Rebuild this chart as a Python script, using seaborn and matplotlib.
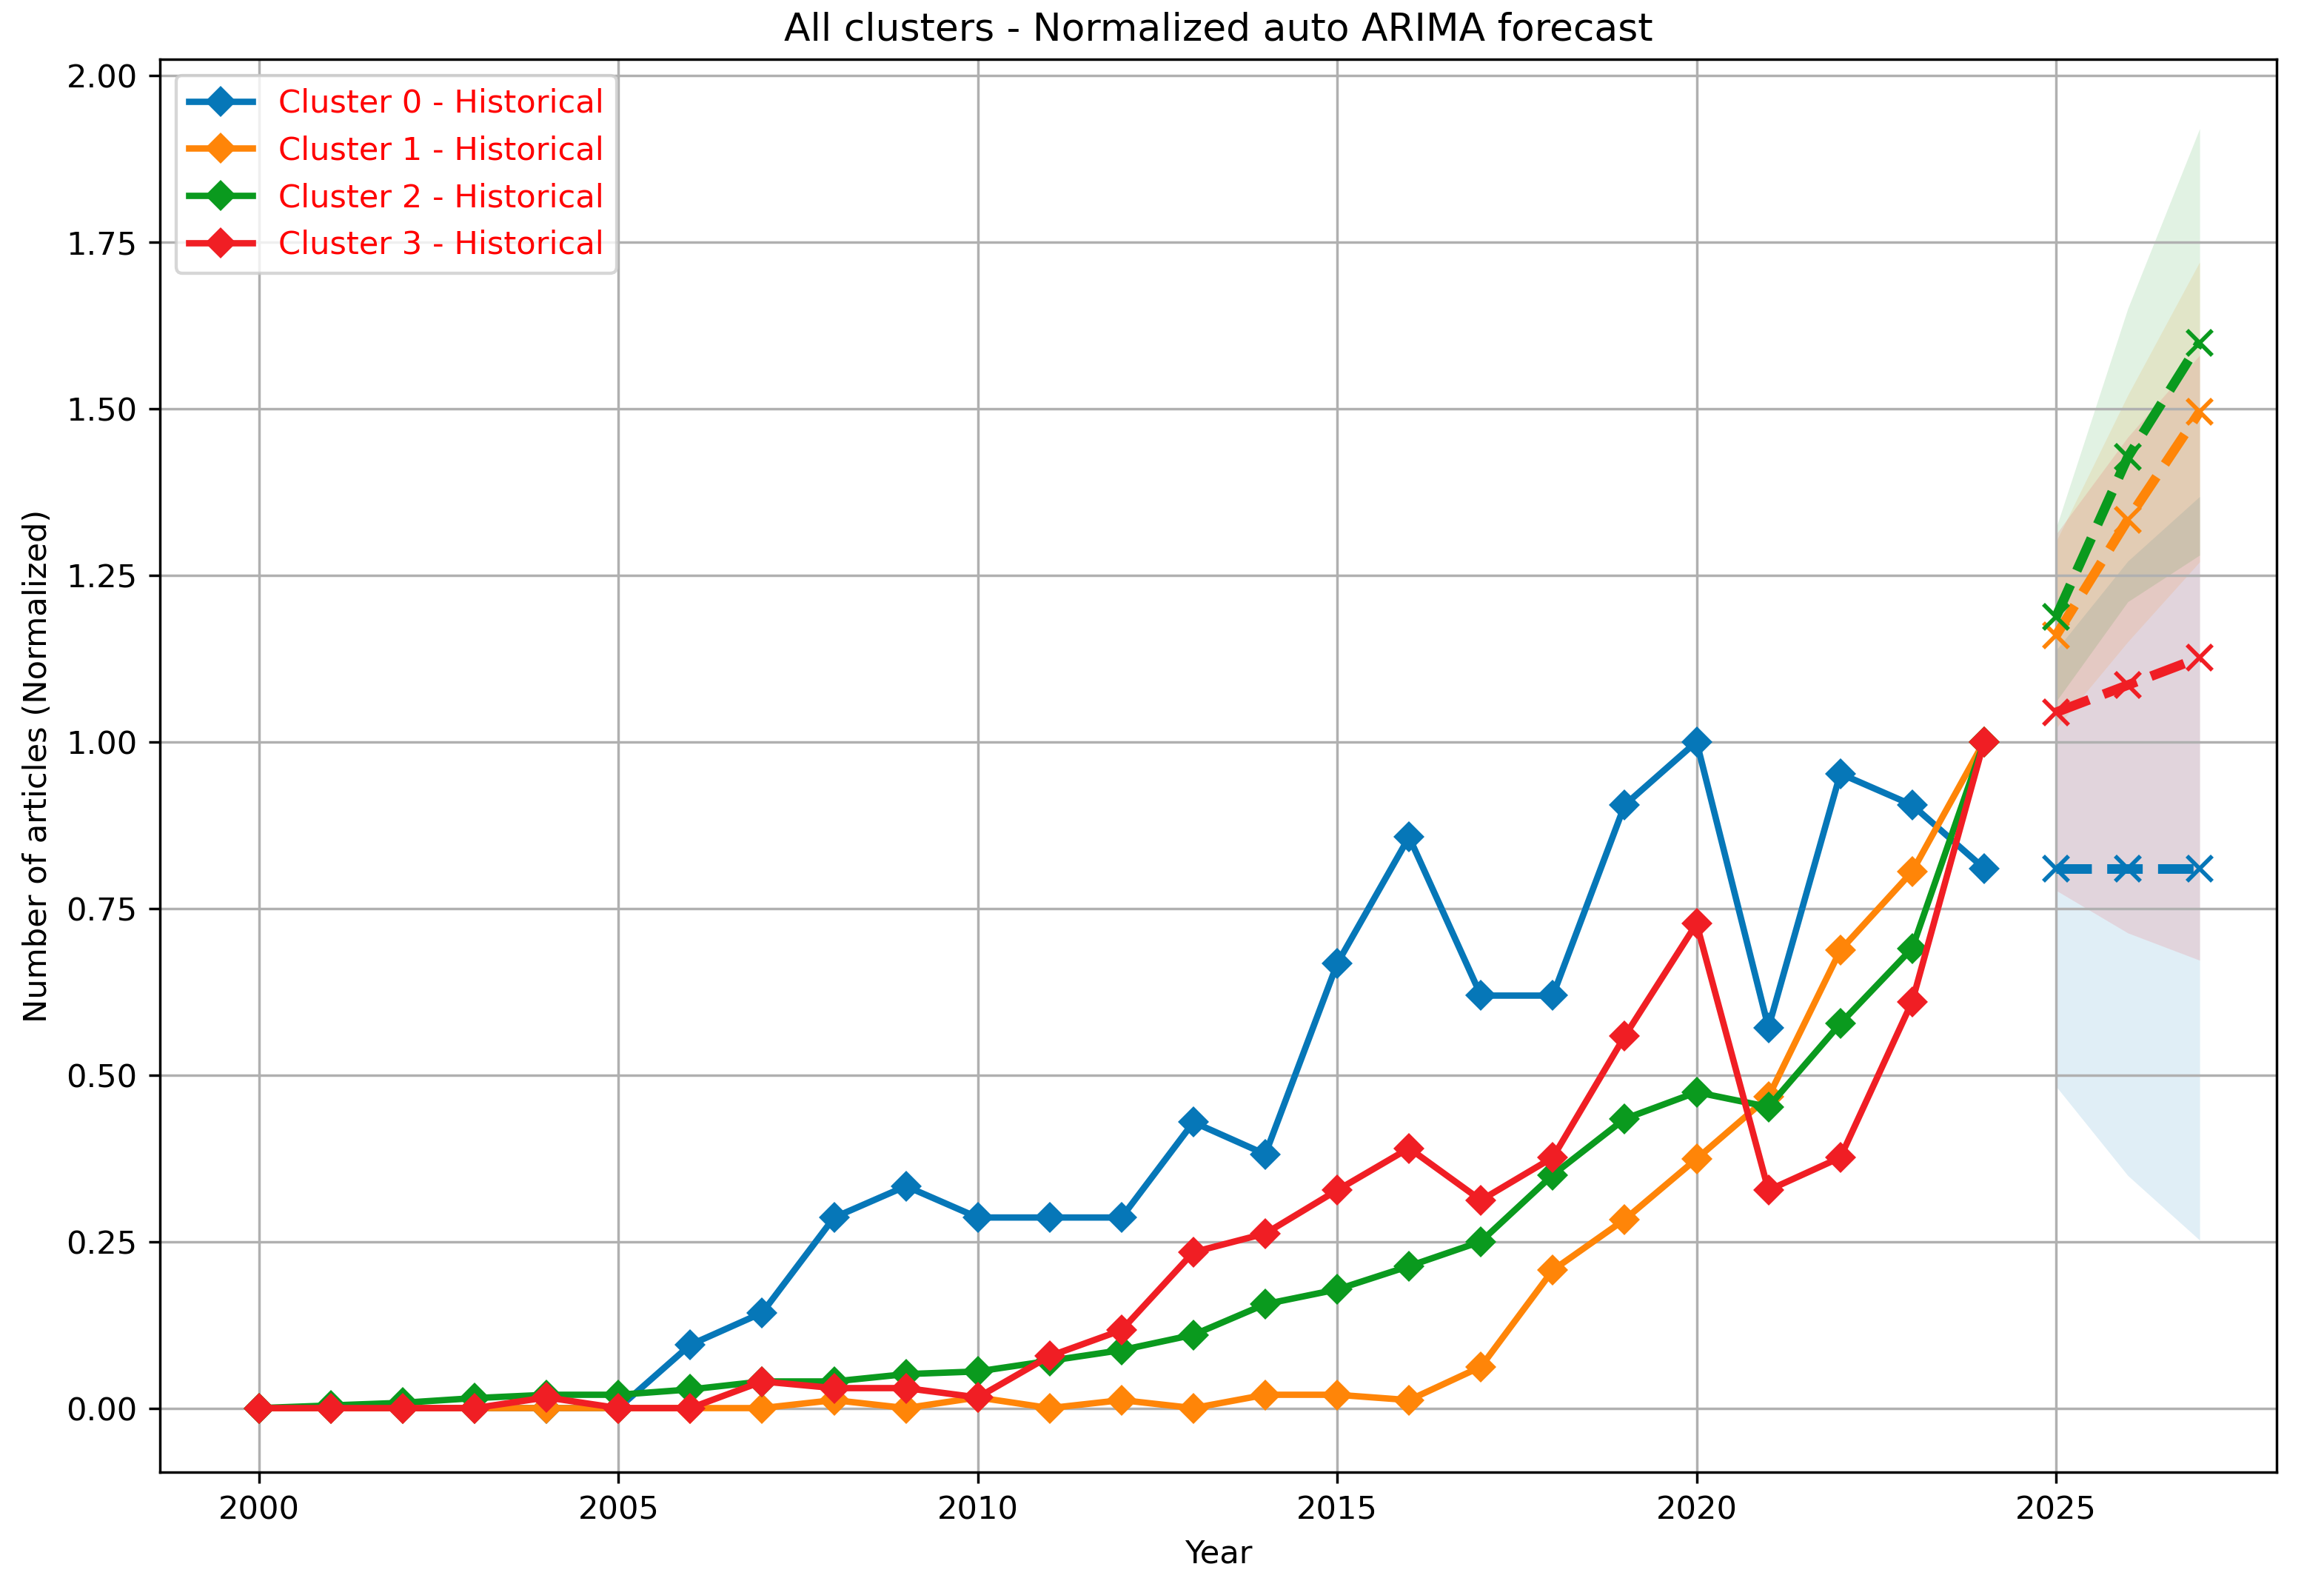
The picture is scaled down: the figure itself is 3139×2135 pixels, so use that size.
import matplotlib
matplotlib.use("Agg")
import matplotlib.pyplot as plt
import numpy as np
import pandas as pd
import seaborn as sns

years = list(range(2000, 2025))
forecast_years = [2025, 2026, 2027]

cluster0 = [0, 0, 0, 0, 0, 0, 0.095, 0.143, 0.286, 0.333, 0.286, 0.286, 0.286,
            0.429, 0.381, 0.667, 0.857, 0.619, 0.619, 0.905, 1.0, 0.571, 0.952,
            0.905, 0.810]
cluster1 = [0, 0, 0, 0, 0, 0, 0, 0, 0.012, 0, 0.016, 0, 0.012, 0, 0.02, 0.02,
            0.012, 0.062, 0.207, 0.283, 0.374, 0.467, 0.687, 0.805, 1.0]
cluster2 = [0, 0.004, 0.008, 0.015, 0.02, 0.02, 0.028, 0.04, 0.04, 0.051, 0.055,
            0.071, 0.087, 0.11, 0.156, 0.178, 0.213, 0.25, 0.35, 0.434, 0.474,
            0.452, 0.577, 0.69, 1.0]
cluster3 = [0, 0, 0, 0, 0.016, 0, 0, 0.04, 0.03, 0.03, 0.016, 0.078, 0.117,
            0.234, 0.262, 0.327, 0.39, 0.312, 0.376, 0.558, 0.727, 0.327, 0.376,
            0.61, 1.0]

fc0 = [0.810, 0.810, 0.810]
fc1 = [1.159, 1.333, 1.495]
fc2 = [1.187, 1.427, 1.599]
fc3 = [1.044, 1.085, 1.126]

lo0, hi0 = [0.483, 0.349, 0.252], [1.137, 1.271, 1.368]
lo1, hi1 = [1.02, 1.15, 1.27], [1.30, 1.52, 1.72]
lo2, hi2 = [1.06, 1.21, 1.28], [1.32, 1.65, 1.92]
lo3, hi3 = [0.777, 0.713, 0.672], [1.311, 1.457, 1.58]

names = ["Cluster 0", "Cluster 1", "Cluster 2", "Cluster 3"]
colors = ["#0677b8", "#ff8508", "#0a9a1e", "#f01e24"]

hist = [cluster0, cluster1, cluster2, cluster3]
fcs = [fc0, fc1, fc2, fc3]
lows = [lo0, lo1, lo2, lo3]
highs = [hi0, hi1, hi2, hi3]

DPI = 311
fig, ax = plt.subplots(figsize=(3139 / DPI, 2135 / DPI), dpi=DPI)
fig.subplots_adjust(left=0.0688, right=0.9796, top=0.9625, bottom=0.0689)

handles = []
for name, col, h, fc, lo, hi in zip(names, colors, hist, fcs, lows, highs):
    df = pd.DataFrame({"Year": years, "value": h})
    sns.lineplot(data=df, x="Year", y="value", ax=ax, color=col, lw=2,
                 marker="D", markersize=7, markeredgewidth=0)
    handles.append(ax.lines[-1])
    handles[-1].set_label(f"{name} - Historical")
    dff = pd.DataFrame({"Year": forecast_years, "value": fc})
    sns.lineplot(data=dff, x="Year", y="value", ax=ax, color=col, lw=3,
                 linestyle="--", marker="x", markersize=8, markeredgewidth=1.3,
                 markeredgecolor=col)
    ax.fill_between(forecast_years, lo, hi, color=col, alpha=0.12, lw=0)

ax.set_xlim(1998.62, 2028.07)
ax.set_ylim(-0.096, 2.024)
ax.grid(True, color="#b0b0b0", lw=0.8)
ax.set_xlabel("Year")
ax.set_ylabel("Number of articles (Normalized)")
ax.set_title("All clusters - Normalized auto ARIMA forecast")
ax.legend(handles=handles, loc="upper left", labelcolor="red")

fig.savefig("out.png", dpi=DPI)
